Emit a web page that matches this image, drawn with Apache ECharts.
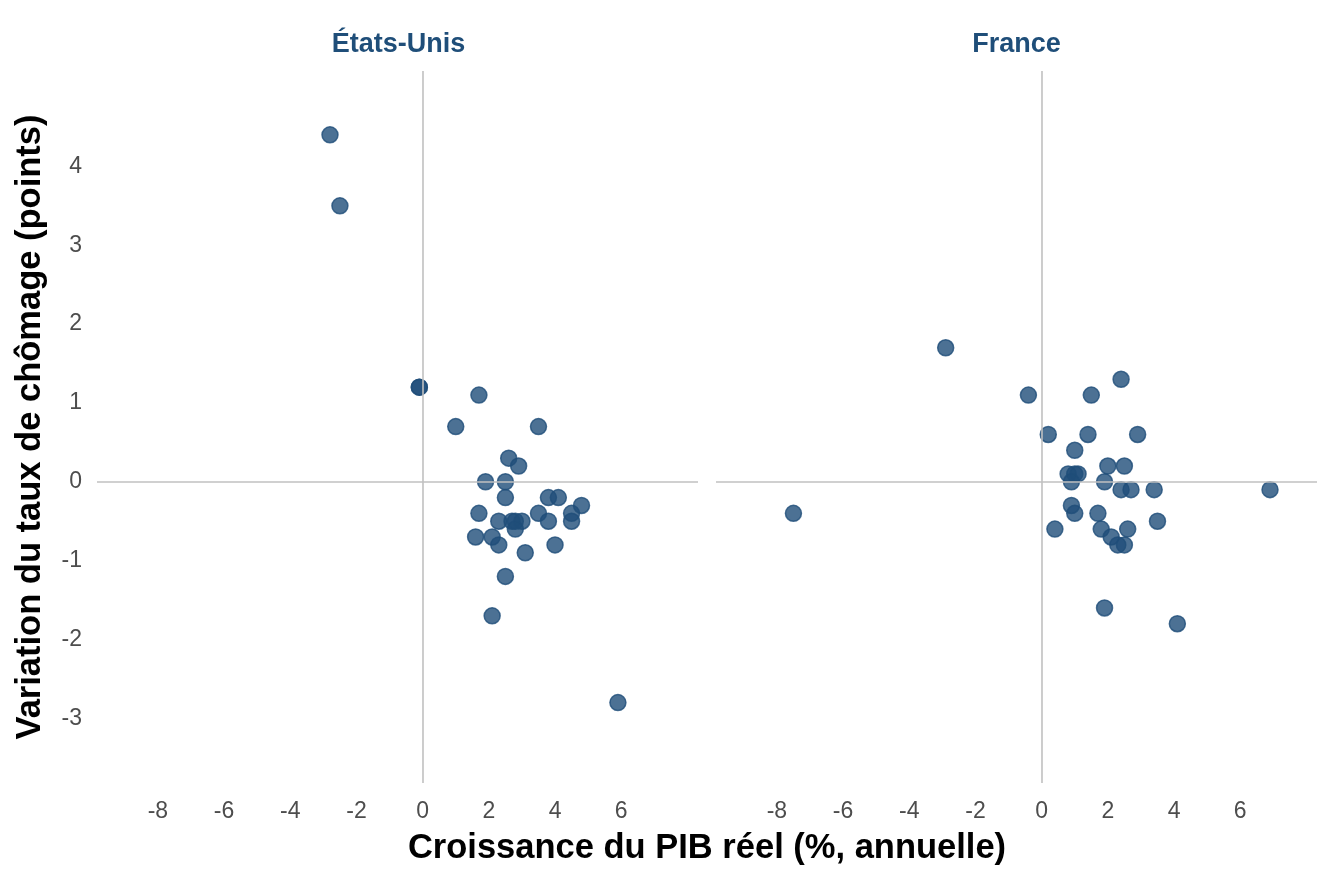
<!DOCTYPE html>
<html>
<head>
<meta charset="utf-8">
<script src="https://cdn.jsdelivr.net/npm/echarts@6/dist/echarts.min.js"></script>
<style>
  html, body { margin: 0; padding: 0; background: #fff; }
  #chart { width: 1344px; height: 883px; }
</style>
</head>
<body>
<div id="chart"></div>
<script>
// États-Unis : croissance du PIB réel (%) et variation du chômage (points)
const usGrowth = [-2.8, -2.5, -0.1, -0.1, 1.7, 1.0, 3.5, 2.6, 2.9, 1.9, 2.5, 2.5, 3.8, 4.1, 4.8, 4.5, 4.5,
  1.7, 3.5, 3.8, 2.3, 2.7, 2.8, 3.0, 2.8, 1.6, 2.1, 2.3, 4.0, 3.1, 2.5, 2.1, 5.9];
const usUnemp = [4.4, 3.5, 1.2, 1.2, 1.1, 0.7, 0.7, 0.3, 0.2, 0, 0, -0.2, -0.2, -0.2, -0.3, -0.4, -0.5,
  -0.4, -0.4, -0.5, -0.5, -0.5, -0.5, -0.5, -0.6, -0.7, -0.7, -0.8, -0.8, -0.9, -1.2, -1.7, -2.8];

// France
const frGrowth = [2.4, -0.4, 1.5, 0.2, 1.4, 2.9, 1.0, 2.0, 2.5, 0.8, 1.0, 1.1, 0.9, 1.9, 2.4, 2.7, 3.4,
  0.9, 1.0, 1.7, 3.5, 0.4, 1.8, 2.6, 2.1, 2.3, 2.5, 1.9, 4.1, -2.9, -7.5, 6.9];
const frUnemp = [1.3, 1.1, 1.1, 0.6, 0.6, 0.6, 0.4, 0.2, 0.2, 0.1, 0.1, 0.1, 0.0, 0.0, -0.1, -0.1, -0.1,
  -0.3, -0.4, -0.4, -0.5, -0.6, -0.6, -0.6, -0.7, -0.8, -0.8, -1.6, -1.8, 1.7, -0.4, -0.1];

const xTicks = [-8, -6, -4, -2, 0, 2, 4, 6];
const yTicks = [-3, -2, -1, 0, 1, 2, 3, 4];
const panels = ['États-Unis', 'France'];

const FONT = 'Liberation Sans, Arial, sans-serif';
const BLUE = '#1f4e79';

const toPairs = (xs, ys) => xs.map((x, i) => [x, ys[i]]);

const grids = [
  { left: 97, top: 71, width: 601, height: 712 },
  { left: 716, top: 71, width: 601, height: 712 }
];

const xAxisBase = (gridIndex) => ({
  type: 'value',
  gridIndex,
  min: -9.84,
  max: 8.32,
  axisLine: { show: false },
  axisTick: { show: false },
  splitLine: { show: false },
  axisLabel: {
    customValues: xTicks,
    color: '#4d4d4d',
    fontSize: 23,
    fontFamily: FONT,
    margin: 17
  }
});

const yAxisBase = (gridIndex, showLabel) => ({
  type: 'value',
  gridIndex,
  min: -3.82,
  max: 5.21,
  axisLine: { show: false },
  axisTick: { show: false },
  splitLine: { show: false },
  axisLabel: {
    show: showLabel,
    customValues: yTicks,
    color: '#4d4d4d',
    fontSize: 23,
    fontFamily: FONT,
    margin: 15
  }
});

//参考线（x=0, y=0）
const refLines = (i) => ({
  type: 'scatter',
  xAxisIndex: i,
  yAxisIndex: i,
  data: [],
  z: 1,
  silent: true,
  markLine: {
    silent: true,
    symbol: 'none',
    label: { show: false },
    lineStyle: { color: '#c0c0c0', width: 1.6, type: 'solid' },
    data: [{ xAxis: 0 }, { yAxis: 0 }]
  }
});

const points = (i, data) => ({
  type: 'scatter',
  xAxisIndex: i,
  yAxisIndex: i,
  data,
  z: 3,
  symbolSize: 16,
  itemStyle: {
    color: 'rgba(31,78,121,0.8)',
    borderColor: 'rgba(31,78,121,0.8)',
    borderWidth: 1.5,
    opacity: 1
  }
});

const chart = echarts.init(document.getElementById('chart'));
chart.setOption({
  animation: false,
  backgroundColor: '#fff',
  grid: grids,
  xAxis: [xAxisBase(0), xAxisBase(1)],
  yAxis: [yAxisBase(0, true), yAxisBase(1, false)],
  graphic: [
    {
      type: 'text', x: 398.5, y: 45,
      style: { text: panels[0], fill: BLUE, font: 'bold 27px ' + FONT, textAlign: 'center', textVerticalAlign: 'middle' }
    },
    {
      type: 'text', x: 1016.5, y: 45,
      style: { text: panels[1], fill: BLUE, font: 'bold 27px ' + FONT, textAlign: 'center', textVerticalAlign: 'middle' }
    },
    {
      type: 'text', x: 707, y: 848,
      style: { text: 'Croissance du PIB réel (%, annuelle)', fill: '#000', font: 'bold 34.5px ' + FONT, textAlign: 'center', textVerticalAlign: 'middle' }
    },
    {
      type: 'text', x: 30, y: 427, rotation: Math.PI / 2,
      style: { text: 'Variation du taux de chômage (points)', fill: '#000', font: 'bold 34.5px ' + FONT, textAlign: 'center', textVerticalAlign: 'middle' }
    }
  ],
  series: [
    refLines(0),
    refLines(1),
    points(0, toPairs(usGrowth, usUnemp)),
    points(1, toPairs(frGrowth, frUnemp))
  ]
});
</script>
</body>
</html>
